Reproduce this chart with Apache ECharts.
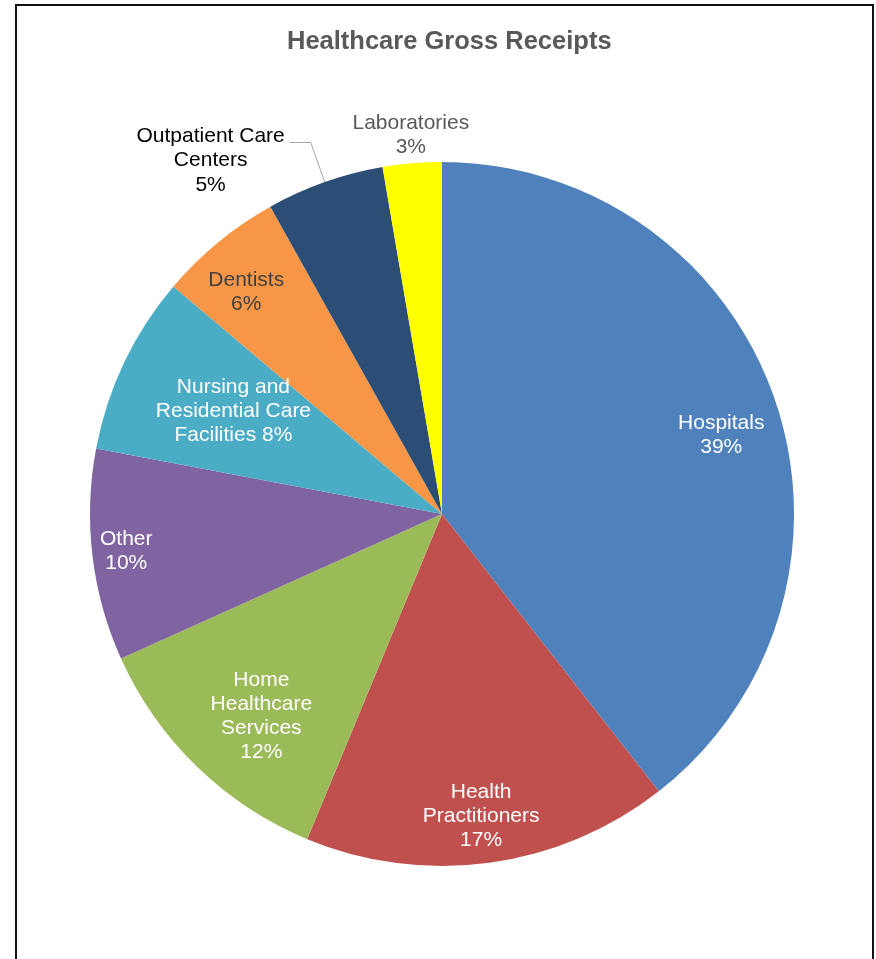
<!DOCTYPE html>
<html>
<head>
<meta charset="utf-8">
<script src="https://cdn.jsdelivr.net/npm/echarts@6/dist/echarts.min.js"></script>
<style>
html, body { margin: 0; padding: 0; background: #fff; }
#frame { position: absolute; left: 15px; top: 4px; width: 859px; height: 1000px; box-sizing: border-box; border: 2px solid #111; }
#chart { position: absolute; left: 0; top: 0; width: 876px; height: 959px; }
</style>
</head>
<body>
<div id="frame"></div>
<div id="chart"></div>
<script>
// ---- data ----
const titleText = 'Healthcare Gross Receipts';
const categories = [
  'Hospitals',
  'Health Practitioners',
  'Home Healthcare Services',
  'Other',
  'Nursing and Residential Care Facilities',
  'Dentists',
  'Outpatient Care Centers',
  'Laboratories'
];
const values = [39.4, 16.8, 12.0, 9.7, 8.2, 5.7, 5.4, 2.7];
// label text templates ({p} = rounded percent)
const labelTemplates = [
  'Hospitals\n{p}%',
  'Health\nPractitioners\n{p}%',
  'Home\nHealthcare\nServices\n{p}%',
  'Other\n{p}%',
  'Nursing and\nResidential Care\nFacilities {p}%',
  'Dentists\n{p}%',
  'Outpatient Care\nCenters\n{p}%',
  'Laboratories\n{p}%'
];

// ---- styles ----
const colors = ['#4F81BD', '#C0504D', '#9BBB59', '#8064A2', '#4BACC6', '#F79646', '#2C4D75', '#FFFF00'];
const labelColors = ['#fff', '#fff', '#fff', '#fff', '#fff', '#404040', '#000', '#595959'];
const labelOffsets = [[110, -20], [15, 125], [-56, 74], [-138, 16], [-47, -26], [-82, -84], [0, 18], [-16, -200]];
const outsideIdx = 6;
const FONT = 'Liberation Sans, Arial, sans-serif';

const seriesData = categories.map((name, i) => {
  const item = {
    name: name,
    value: values[i],
    itemStyle: { color: colors[i] },
    label: {
      color: labelColors[i],
      offset: labelOffsets[i]
    }
  };
  if (i === outsideIdx) {
    item.label.position = 'outside';
    item.labelLine = { show: true, length: 42, length2: 21, lineStyle: { color: '#A6A6A6', width: 1 } };
  } else {
    item.label.position = 'inside';
    item.labelLine = { show: false };
  }
  return item;
});

const chart = echarts.init(document.getElementById('chart'), null, { renderer: 'canvas' });
chart.setOption({
  animation: false,
  backgroundColor: 'transparent',
  title: {
    text: titleText,
    left: 282,
    top: 24,
    textStyle: { fontFamily: FONT, fontSize: 25.5, fontWeight: 'bold', color: '#595959' }
  },
  series: [{
    type: 'pie',
    center: [442, 514],
    radius: [0, 352],
    startAngle: 90,
    clockwise: true,
    avoidLabelOverlap: false,
    emphasis: { disabled: true },
    itemStyle: { borderWidth: 0 },
    label: {
      fontFamily: FONT,
      fontSize: 21,
      lineHeight: 24,
      formatter: function (p) {
        const txt = labelTemplates[p.dataIndex].replace('{p}', Math.round(p.percent));
        if (p.dataIndex === outsideIdx) {
          return txt.split('\n').map(s => '{c|' + s + '}').join('\n');
        }
        return txt;
      },
      rich: {
        c: { align: 'center', fontFamily: FONT, fontSize: 21, lineHeight: 24.5, color: '#000' }
      }
    },
    data: seriesData
  }]
});
</script>
</body>
</html>
